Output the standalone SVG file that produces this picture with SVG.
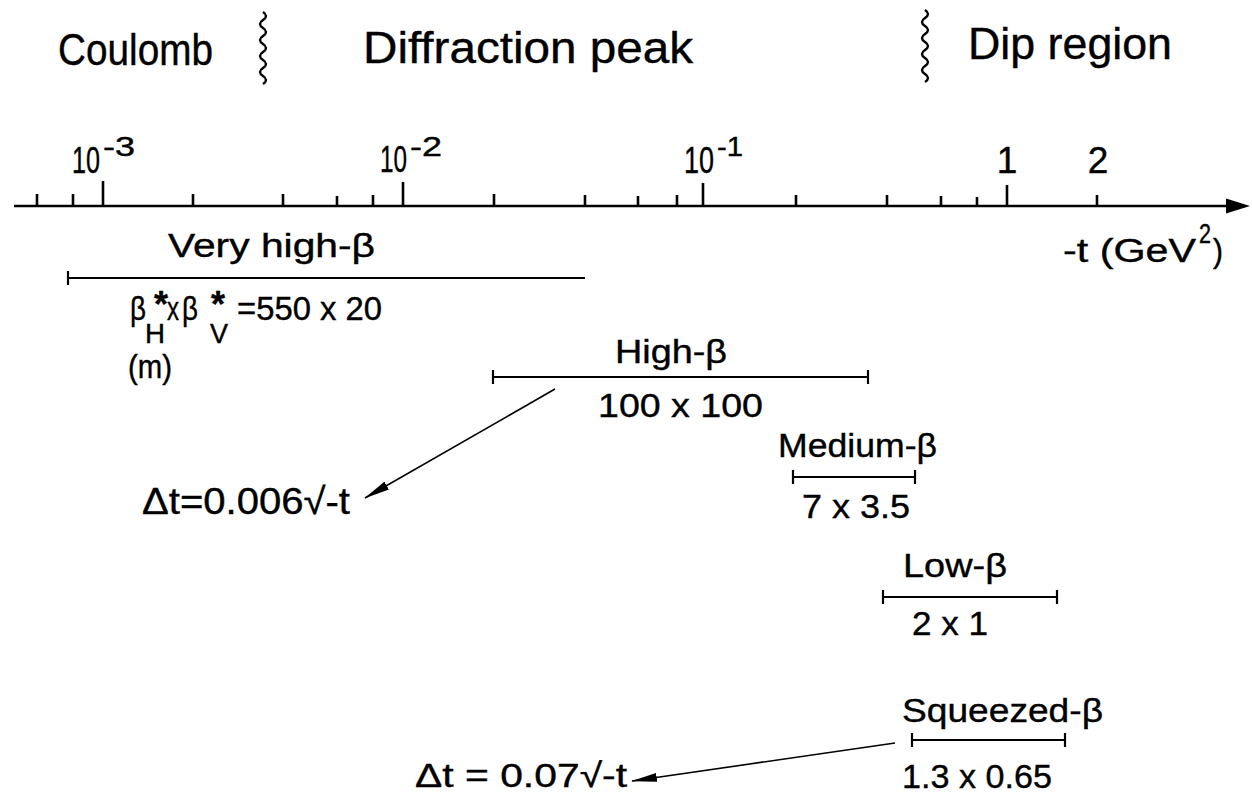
<svg xmlns="http://www.w3.org/2000/svg" width="1252" height="797" viewBox="0 0 1252 797">
<style>
  text { font-family: "Liberation Sans", Arial, sans-serif; fill: #000; stroke: #000; stroke-width: 0.4; }
  .hdr { font-size: 45px; }
  .num { font-size: 37px; }
  .sup { font-size: 27px; }
  .lbl { font-size: 34px; }
  .sub { font-size: 27px; }
  .ast { font-size: 36px; font-weight: bold; }
  .axis { stroke: #000; stroke-width: 2.6; fill: none; }
  .tick { stroke: #000; stroke-width: 2.6; }
  .rng { stroke: #000; stroke-width: 2.2; fill: none; }
  .wave { stroke: #000; stroke-width: 2.4; fill: none; }
  .lead { stroke: #000; stroke-width: 1.6; fill: none; }
</style>
<defs>
  <marker id="ah" markerUnits="userSpaceOnUse" markerWidth="26" markerHeight="10" viewBox="0 0 26 10" refX="25" refY="5" orient="auto">
    <path d="M0,0.5 L26,5 L0,9.5 Z" fill="#000"/>
  </marker>
</defs>
<rect width="1252" height="797" fill="#fff"/>

<g id="regions">
  <text class="hdr" x="58" y="65" textLength="155" lengthAdjust="spacingAndGlyphs">Coulomb</text>
  <path class="wave" d="M263,12 q6,4 0,8 q-6,4 0,8 q6,4 0,8 q-6,4 0,8 q6,4 0,8 q-6,4 0,8 q6,4 0,8 q-6,4 0,8 q6,4 0,8"/>
  <text class="hdr" x="363" y="63" textLength="330" lengthAdjust="spacingAndGlyphs">Diffraction peak</text>
  <path class="wave" d="M925,10 q6,4 0,8 q-6,4 0,8 q6,4 0,8 q-6,4 0,8 q6,4 0,8 q-6,4 0,8 q6,4 0,8 q-6,4 0,8 q6,4 0,8"/>
  <text class="hdr" x="968" y="59" textLength="204" lengthAdjust="spacingAndGlyphs">Dip region</text>
</g>

<g id="axis">
  <line class="axis" x1="14" y1="206" x2="1230" y2="206"/>
  <polygon points="1250,206 1226,198.5 1226,213.5" fill="#000"/>
  <g class="tick">
    <line x1="37" y1="206" x2="37" y2="194"/>
    <line x1="73" y1="206" x2="73" y2="194"/>
    <line x1="103" y1="206" x2="103" y2="181"/>
    <line x1="193" y1="206" x2="193" y2="194"/>
    <line x1="283" y1="206" x2="283" y2="194"/>
    <line x1="337" y1="206" x2="337" y2="196"/>
    <line x1="373" y1="206" x2="373" y2="195"/>
    <line x1="403" y1="206" x2="403" y2="182"/>
    <line x1="494" y1="206" x2="494" y2="194"/>
    <line x1="585" y1="206" x2="585" y2="195"/>
    <line x1="638" y1="206" x2="638" y2="196"/>
    <line x1="677" y1="206" x2="677" y2="195"/>
    <line x1="703" y1="206" x2="703" y2="183"/>
    <line x1="796" y1="206" x2="796" y2="195"/>
    <line x1="887" y1="206" x2="887" y2="195"/>
    <line x1="941" y1="206" x2="941" y2="196"/>
    <line x1="977" y1="206" x2="977" y2="197"/>
    <line x1="1007" y1="206" x2="1007" y2="185"/>
    <line x1="1097" y1="206" x2="1097" y2="195"/>
  </g>
  <text class="num" x="72" y="173" textLength="28" lengthAdjust="spacingAndGlyphs">10</text>
  <text class="sup" x="103" y="156" textLength="32" lengthAdjust="spacingAndGlyphs">-3</text>
  <text class="num" x="380" y="172" textLength="27" lengthAdjust="spacingAndGlyphs">10</text>
  <text class="sup" x="410" y="156" textLength="32" lengthAdjust="spacingAndGlyphs">-2</text>
  <text class="num" x="684" y="173" textLength="30" lengthAdjust="spacingAndGlyphs">10</text>
  <text class="sup" x="717" y="156" textLength="26" lengthAdjust="spacingAndGlyphs">-1</text>
  <text class="num" x="1007" y="173" text-anchor="middle">1</text>
  <text class="num" x="1098" y="173" text-anchor="middle">2</text>
  <text class="lbl" x="1063" y="262" textLength="133" lengthAdjust="spacingAndGlyphs">-t  (GeV</text>
  <text class="sub" x="1199" y="243" textLength="12" lengthAdjust="spacingAndGlyphs">2</text>
  <text class="lbl" x="1213" y="262" textLength="10" lengthAdjust="spacingAndGlyphs">)</text>
</g>

<g id="very-high-beta">
  <text class="lbl" x="168" y="257" textLength="207" lengthAdjust="spacingAndGlyphs">Very high-β</text>
  <line class="rng" x1="68" y1="278" x2="585" y2="278"/>
  <line class="rng" x1="68" y1="271" x2="68" y2="285"/>
  <text class="lbl" x="130" y="320" textLength="16" lengthAdjust="spacingAndGlyphs">β</text>
  <text class="ast" x="161" y="317" text-anchor="middle">*</text>
  <text class="sub" x="145" y="343" textLength="20" lengthAdjust="spacingAndGlyphs">H</text>
  <text class="lbl" x="167" y="320" textLength="12" lengthAdjust="spacingAndGlyphs">x</text>
  <text class="lbl" x="182" y="320" textLength="16" lengthAdjust="spacingAndGlyphs">β</text>
  <text class="ast" x="218" y="317" text-anchor="middle">*</text>
  <text class="sub" x="210" y="343" textLength="18" lengthAdjust="spacingAndGlyphs">V</text>
  <text class="lbl" x="237" y="320" textLength="145" lengthAdjust="spacingAndGlyphs">=550 x 20</text>
  <text class="lbl" x="128" y="378" textLength="44" lengthAdjust="spacingAndGlyphs">(m)</text>
</g>

<g id="high-beta">
  <text class="lbl" x="615" y="363" textLength="112" lengthAdjust="spacingAndGlyphs">High-β</text>
  <line class="rng" x1="493" y1="377" x2="868" y2="377"/>
  <line class="rng" x1="493" y1="370" x2="493" y2="384"/>
  <line class="rng" x1="868" y1="370" x2="868" y2="384"/>
  <text class="lbl" x="598" y="417" textLength="165" lengthAdjust="spacingAndGlyphs">100  x  100</text>
</g>

<g id="dt-high">
  <text class="lbl" x="142" y="514" textLength="208" lengthAdjust="spacingAndGlyphs" style="font-size:37px">Δt=0.006√-t</text>
</g>

<g id="medium-beta">
  <text class="lbl" x="778" y="457" textLength="159" lengthAdjust="spacingAndGlyphs">Medium-β</text>
  <line class="rng" x1="793" y1="477" x2="915" y2="477"/>
  <line class="rng" x1="793" y1="470" x2="793" y2="484"/>
  <line class="rng" x1="915" y1="470" x2="915" y2="484"/>
  <text class="lbl" x="802" y="518" textLength="108" lengthAdjust="spacingAndGlyphs">7 x 3.5</text>
</g>

<g id="low-beta">
  <text class="lbl" x="903" y="577" textLength="104" lengthAdjust="spacingAndGlyphs">Low-β</text>
  <line class="rng" x1="883" y1="597" x2="1057" y2="597"/>
  <line class="rng" x1="883" y1="590" x2="883" y2="604"/>
  <line class="rng" x1="1057" y1="590" x2="1057" y2="604"/>
  <text class="lbl" x="912" y="635" textLength="76" lengthAdjust="spacingAndGlyphs">2 x 1</text>
</g>

<g id="squeezed-beta">
  <text class="lbl" x="902" y="722" textLength="201" lengthAdjust="spacingAndGlyphs">Squeezed-β</text>
  <line class="rng" x1="912" y1="740" x2="1065" y2="740"/>
  <line class="rng" x1="912" y1="733" x2="912" y2="747"/>
  <line class="rng" x1="1065" y1="733" x2="1065" y2="747"/>
  <text class="lbl" x="902" y="788" textLength="150" lengthAdjust="spacingAndGlyphs">1.3 x 0.65</text>
</g>

<g id="dt-squeezed">
  <text class="lbl" x="415" y="787" textLength="212" lengthAdjust="spacingAndGlyphs">Δt = 0.07√-t</text>
</g>

<g id="connectors">
  <line class="lead" x1="555" y1="389" x2="365" y2="498" marker-end="url(#ah)"/>
  <line class="lead" x1="895" y1="743" x2="632" y2="781" marker-end="url(#ah)"/>
</g>
</svg>
